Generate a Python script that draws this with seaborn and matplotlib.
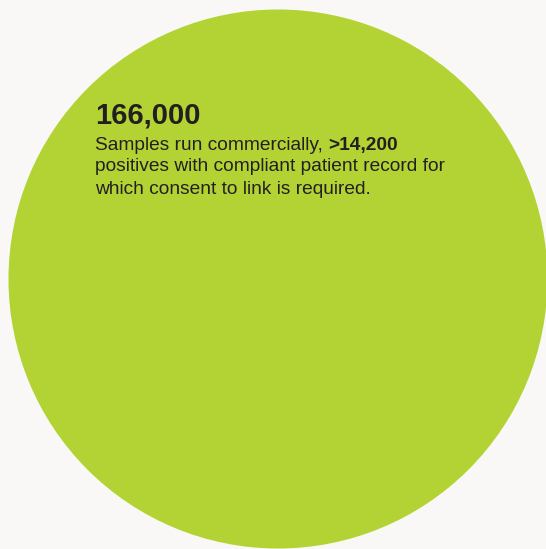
import matplotlib
matplotlib.use("Agg")
import matplotlib.pyplot as plt
from matplotlib.patches import Circle
import seaborn as sns

# Data
headline = "166,000"
line1_regular = "Samples run commercially, "
line1_bold = ">14,200"
line2 = "positives with compliant patient record for"
line3 = "which consent to link is required."

W, H = 546, 549
sns.set_theme(style="white")
plt.rcParams['font.family'] = ['Liberation Sans', 'DejaVu Sans']

bg = "#f9f8f6"
green = "#b3d334"
txt = "#231f20"

fig = plt.figure(figsize=(W / 100, H / 100), dpi=100, facecolor=bg)
ax = fig.add_axes([0, 0, 1, 1])
ax.set_facecolor(bg)
ax.set_xlim(0, W)
ax.set_ylim(H, 0)
ax.set_aspect("auto")
ax.axis("off")

ax.add_patch(Circle((278, 279), 269.5, facecolor=green, edgecolor="none"))

fs = 13.8
ax.text(95, 124, headline, fontsize=21, fontweight="bold", color=txt, va="baseline", ha="left")
t1 = ax.text(95, 150, line1_regular, fontsize=fs, color=txt, va="baseline", ha="left")
ax.annotate(line1_bold, xy=(1, 0), xycoords=t1, xytext=(0, 0), textcoords="offset points",
            fontsize=fs, fontweight="bold", color=txt, va="bottom", ha="left")
ax.text(95, 171, line2, fontsize=fs, color=txt, va="baseline", ha="left")
ax.text(95, 194, line3, fontsize=fs, color=txt, va="baseline", ha="left")

fig.savefig("out.png", dpi=100, facecolor=bg)
